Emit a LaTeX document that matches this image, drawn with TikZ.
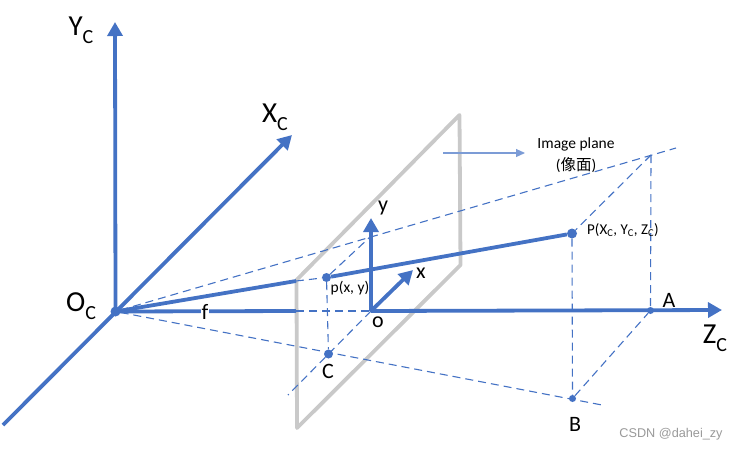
\documentclass[tikz,border=0pt]{standalone}
\usepackage{fontspec}
\setmainfont{Carlito}
\newfontfamily\cjkfont{Noto Sans CJK SC}
\newfontfamily\wmfont{Liberation Sans}
\usetikzlibrary{arrows.meta}
\definecolor{bl}{HTML}{4472C4}
\definecolor{gr}{HTML}{C9C9C9}
\tikzset{
  thickaxis/.style={draw=bl,line width=3.8pt,-{Triangle[length=14pt,width=15pt]}},
  thickline/.style={draw=bl,line width=3.8pt},
  guide/.style={draw=bl,line width=1.1pt,dash pattern=on 8pt off 5pt},
  dotmark/.style={circle,fill=bl,inner sep=0pt,minimum size=#1},
  biglabel/.style={font=\fontsize{29}{29}\selectfont,inner sep=0pt,text=black},
  medlabel/.style={font=\fontsize{22}{22}\selectfont,inner sep=0pt,text=black},
  smalllabel/.style={font=\fontsize{15.5}{17}\selectfont,inner sep=0pt,text=black,align=center},
}
\newcommand{\lowc}[1]{\raisebox{-0.28em}{\fontsize{#1}{#1}\selectfont C}}
\begin{document}
\begin{tikzpicture}[x=1pt,y=-1pt]
\useasboundingbox (0,0) rectangle (739,451);
% coordinates
\node[dotmark=10pt] (Oc) at (115.5,311.5) {};
\coordinate (Ytip) at (115,22);
\coordinate (Xtip) at (292,135);
\coordinate (Tail) at (3,425);
\coordinate (zo) at (371,311);
\coordinate (Ztip) at (722,310);
\coordinate (pl1) at (297,428);
\coordinate (pl2) at (296.5,280);
\coordinate (pl3) at (459.5,115);
\coordinate (pl4) at (460.5,265);
\coordinate (fend) at (296,311);
\coordinate (rayhit) at (296,281);
\node[dotmark=9pt] (pp) at (326.5,277.5) {};
\node[dotmark=10pt] (PP) at (572,233.5) {};
\node[dotmark=9pt] (CC) at (328.5,354) {};
\node[dotmark=7pt] (BB) at (572.5,398.5) {};
\node[dotmark=7pt] (AA) at (650.5,310.5) {};
\coordinate (Top) at (651,155);
\coordinate (TopEnd) at (676,148);
\coordinate (BotEnd) at (602,405);
\coordinate (CEnd) at (288,395);
\coordinate (ytop) at (370,237);
\coordinate (ytip) at (371,218);
\coordinate (xtip) at (413,270);
\coordinate (ia) at (443,153);
\coordinate (ib) at (525,153);
% image plane
\draw[gr,line width=3.8pt,line join=round] (pl1) -- (pl2) -- (pl3) -- (pl4) -- cycle;
% guides
\draw[guide] (Oc) -- (TopEnd);
\draw[guide] (Oc) -- (BotEnd);
\draw[guide] (Top) -- (AA);
\draw[guide] (Top) -- (PP);
\draw[guide] (PP) -- (BB);
\draw[guide] (BB) -- (AA);
\draw[guide] (fend) -- (zo);
\draw[guide] (zo) -- (CEnd);
\draw[guide] (pp) -- (ytop);
\draw[guide] (pp) -- (CC);
\draw[guide] (rayhit) -- (pp);
% axes
\draw[thickaxis] (Oc.center) -- (Ytip);
\draw[thickaxis] (Tail) -- (Xtip);
\draw[thickline] (Oc.center) -- (fend);
\draw[thickline] (Oc.center) -- (rayhit);
\draw[thickline] (pp) -- (PP);
\draw[thickaxis] (zo) -- (Ztip);
\draw[thickaxis] (zo) -- (ytip);
\draw[thickaxis] (zo) -- (xtip);
\draw[bl!70,line width=1.2pt,-{Triangle[length=9pt,width=8pt]}] (ia) -- (ib);
% labels
\node[biglabel] at (81,30) {Y\lowc{20}};
\node[biglabel] at (275,117) {X\lowc{20}};
\node[biglabel] at (81,306) {O\lowc{20}};
\node[biglabel] at (715,338) {Z\lowc{20}};
\node[font=\fontsize{22}{22}\selectfont,fill=white,inner sep=1pt,text=black] at (205,312) {f};
\node[medlabel] at (383,208) {y};
\node[medlabel] at (421,273) {x};
\node[medlabel] at (378,322) {o};
\node[medlabel] at (669,300) {A};
\node[medlabel] at (575,424) {B};
\node[medlabel] at (328,371) {C};
\node[smalllabel] at (350,288) {p(x, y)};
\node[smalllabel,anchor=west,font=\fontsize{15}{17}\selectfont] at (587,230) {P(X\textsubscript{C}, Y\textsubscript{C}, Z\textsubscript{C})};
\node[smalllabel] at (576,144) {Image plane};
\node[smalllabel] at (576,165) {(\cjkfont 像面\rmfamily )};
\node[font=\wmfont\fontsize{12.7}{12.7}\selectfont,text=black!40,inner sep=0pt] at (671,434) {CSDN @dahei\_zy};
\end{tikzpicture}
\end{document}
